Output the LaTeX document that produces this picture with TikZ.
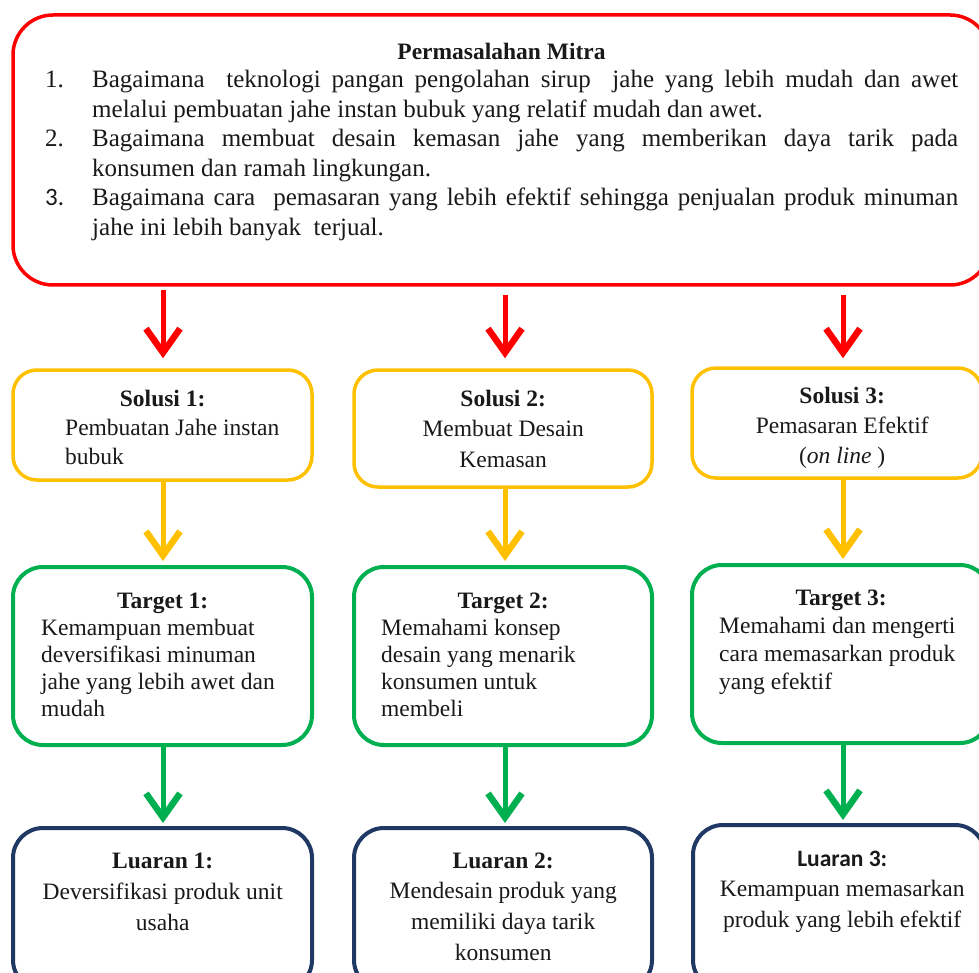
\documentclass[tikz,border=0pt]{standalone}
\usepackage{fontspec}
\setmainfont{Liberation Serif}
\newfontfamily\calibri{Carlito}
\usetikzlibrary{arrows.meta}
\definecolor{cred}{RGB}{255,0,0}
\definecolor{cyel}{RGB}{255,192,0}
\definecolor{cgreen}{RGB}{0,176,80}
\definecolor{cnavy}{RGB}{31,56,100}
\tikzset{
  boxbase/.style={draw, rectangle, inner sep=0pt, fill=white},
  topbox/.style={boxbase, draw=cred, line width=3.5pt, rounded corners=40pt},
  solbox/.style={boxbase, draw=cyel, line width=3.5pt, rounded corners=24pt},
  tarbox/.style={boxbase, draw=cgreen, line width=4pt, rounded corners=30pt},
  luabox/.style={boxbase, draw=cnavy, line width=4pt, rounded corners=30pt},
  txt/.style={inner sep=0pt, anchor=base west, text=black!90},
  arr/.style={line width=5pt, -{Straight Barb[length=24pt,width=34pt,line width=6.5pt]}},
}
\newcommand\lowfont[1]{\fontsize{23.5pt}{#1}\selectfont}
\begin{document}
\begin{tikzpicture}[x=1pt,y=-1pt]
\useasboundingbox (0,0) rectangle (979,973);
\clip (0,0) rectangle (979,973);
% column coordinates
\coordinate (c1) at (163,0);
\coordinate (c2) at (505,0);
\coordinate (c3) at (843,0);
% boxes
\node[topbox, minimum width=977pt, minimum height=270pt] (top) at (501.5,150) {};
\node[solbox, minimum width=299pt, minimum height=110pt] (s1) at (162.5,425) {};
\node[solbox, minimum width=298pt, minimum height=117pt] (s2) at (503,428.5) {};
\node[solbox, minimum width=290pt, minimum height=110pt] (s3) at (837,423) {};
\node[tarbox, minimum width=299pt, minimum height=178pt] (t1) at (162.5,656) {};
\node[tarbox, minimum width=298pt, minimum height=178pt] (t2) at (503,656) {};
\node[tarbox, minimum width=298pt, minimum height=178pt] (t3) at (841,654) {};
\node[luabox, minimum width=299pt, minimum height=162pt] (l1) at (162.5,909) {};
\node[luabox, minimum width=298pt, minimum height=162pt] (l2) at (503,909) {};
\node[luabox, minimum width=292pt, minimum height=165pt] (l3) at (839,907.5) {};
% top text
\node[txt, anchor=base] (toph) at (501.5,60) {\fontsize{23.5pt}{28pt}\selectfont\bfseries Permasalahan Mitra};
\node[txt] (topl) at (45,88) {\parbox[t]{913pt}{\fontsize{25pt}{29.5pt}\selectfont
\makebox[913pt][s]{\makebox[47pt][l]{1.}Bagaimana~ teknologi pangan pengolahan sirup~ jahe yang lebih mudah dan awet}\par
\hspace*{47pt}melalui pembuatan jahe instan bubuk yang relatif mudah dan awet.\par
\makebox[913pt][s]{\makebox[47pt][l]{2.}Bagaimana membuat desain kemasan jahe yang memberikan daya tarik pada}\par
\hspace*{47pt}konsumen dan ramah lingkungan.\par
\makebox[913pt][s]{\makebox[47pt][l]{\calibri 3.}Bagaimana cara~ pemasaran yang lebih efektif sehingga penjualan produk minuman}\par
\hspace*{47pt}jahe ini lebih banyak~ terjual.\par}};
% solusi texts
\node[txt] (s1t) at (13,406) {\parbox[t]{299pt}{\lowfont{29pt}\centering\textbf{Solusi 1:}\par
\raggedright\leftskip=52pt Pembuatan Jahe instan\par bubuk\par}};
\node[txt] (s2t) at (354,406) {\parbox[t]{298pt}{\lowfont{30.5pt}\centering\textbf{Solusi 2:}\par
Membuat Desain\par Kemasan\par}};
\node[txt] (s3t) at (692,403) {\parbox[t]{300pt}{\lowfont{30pt}\centering\textbf{Solusi 3:}\par
Pemasaran Efektif\par (\textit{on line} )\par}};
% target texts
\node[txt] (t1t) at (13,608) {\parbox[t]{299pt}{\lowfont{27pt}\centering\textbf{Target 1:}\par
\raggedright\leftskip=28pt Kemampuan membuat\par deversifikasi minuman\par jahe yang lebih awet dan\par mudah\par}};
\node[txt] (t2t) at (354,608) {\parbox[t]{298pt}{\lowfont{27pt}\centering\textbf{Target 2:}\par
\raggedright\leftskip=27pt Memahami konsep\par desain yang menarik\par konsumen untuk\par membeli\par}};
\node[txt] (t3t) at (692,605) {\parbox[t]{298pt}{\lowfont{28pt}\centering\textbf{Target 3:}\par
\raggedright\leftskip=27pt Memahami dan mengerti\par cara memasarkan produk\par yang efektif\par}};
% luaran texts
\node[txt] (l1t) at (13,868) {\parbox[t]{299pt}{\lowfont{31pt}\centering\textbf{Luaran 1:}\par
Deversifikasi produk unit\par usaha\par}};
\node[txt] (l2t) at (354,868) {\parbox[t]{298pt}{\lowfont{30.7pt}\centering\textbf{Luaran 2:}\par
Mendesain produk yang\par memiliki daya tarik\par konsumen\par}};
\node[txt] (l3t) at (692,866) {\parbox[t]{300pt}{\lowfont{30.5pt}\centering{\calibri\bfseries Luaran 3:}\par
Kemampuan memasarkan\par produk yang lebih efektif\par}};
% arrows
\draw[arr, cred, shorten <=3pt, shorten >=10pt] (top.south -| c1) -- (s1.north -| c1);
\draw[arr, cred, shorten <=8pt, shorten >=10pt] (top.south -| c2) -- (s2.north -| c2);
\draw[arr, cred, shorten <=8pt, shorten >=8pt] (top.south -| c3) -- (s3.north -| c3);
\draw[arr, cyel, shorten >=4pt] (s1.south -| c1) -- (t1.north -| c1);
\draw[arr, cyel, shorten >=4pt] (s2.south -| c2) -- (t2.north -| c2);
\draw[arr, cyel, shorten >=4pt] (s3.south -| c3) -- (t3.north -| c3);
\draw[arr, cgreen, shorten >=3pt] (t1.south -| c1) -- (l1.north -| c1);
\draw[arr, cgreen, shorten >=3pt] (t2.south -| c2) -- (l2.north -| c2);
\draw[arr, cgreen, shorten >=3pt] (t3.south -| c3) -- (l3.north -| c3);
\end{tikzpicture}
\end{document}
